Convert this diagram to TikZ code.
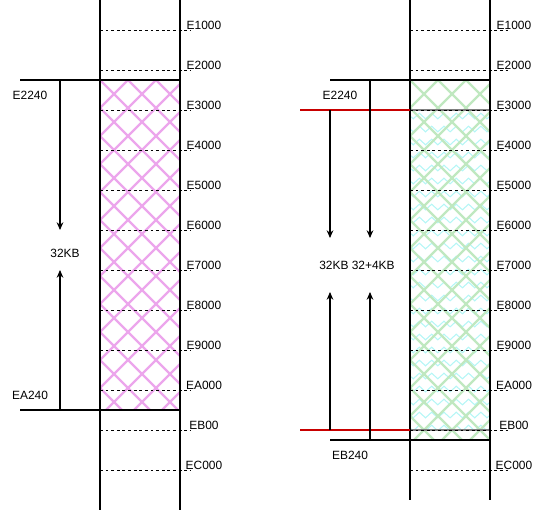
\documentclass[tikz,border=0pt]{standalone}
\usepackage{fontspec}
\setmainfont{Liberation Sans}
\usepackage{tikz}
\usetikzlibrary{arrows.meta,calc,decorations.pathmorphing}

\definecolor{hatchpink}{RGB}{236,166,236}
\definecolor{hatchgreen}{RGB}{192,232,192}
\definecolor{wavecyan}{RGB}{180,246,246}
\definecolor{borderred}{RGB}{200,0,0}

\tikzset{
  lbl/.style={font=\fontsize{6.8}{8}\selectfont, inner sep=0pt},
  rowline/.style={dashed, dash pattern=on 1.6pt off 1.6pt, line width=0.55pt},
  wall/.style={line width=0.6pt},
  hatch/.style={line width=1.3pt},
  memarrow/.style={-{Stealth[length=4.4pt,width=3.8pt]}, line width=0.6pt},
  wave/.style={wavecyan, line width=0.6pt, decorate,
    decoration={zigzag, segment length=7pt, amplitude=1.6pt}},
}

\begin{document}
\begin{tikzpicture}[x=0.02cm, y=-0.02cm]
    \useasboundingbox (0,0) rectangle (545,512);

    % 左侧区域的填充 (粉色网格)
    \begin{scope}
        \clip (100,80) rectangle (180,410);
        \foreach \s in {-420,-392,...,420} {
            \draw[hatchpink, hatch] (100,80+\s) -- ++(420,420);
        }
        \foreach \s in {0,28,...,840} {
            \draw[hatchpink, hatch] (100,80+\s) -- ++(420,-420);
        }
    \end{scope}
    \draw[gray, wall] (100,80) rectangle (180,410);

    % 右侧区域的填充 (绿色网格 + 青色波纹)
    \begin{scope}
        \clip (410,110) rectangle (490,430);
        \foreach \yy in {116,129,...,428} {
            \draw[wave] (404,\yy) -- (496,\yy);
        }
    \end{scope}
    \begin{scope}
        \clip (410,80) rectangle (490,440);
        \foreach \s in {-420,-392,...,420} {
            \draw[hatchgreen, hatch] (410,80+\s) -- ++(420,420);
        }
        \foreach \s in {0,28,...,840} {
            \draw[hatchgreen, hatch] (410,80+\s) -- ++(420,-420);
        }
    \end{scope}
    \draw[gray, wall] (410,80) rectangle (490,440);
    \draw[gray, wall] (410,110) -- (490,110);
    \draw[gray, wall] (410,430) -- (490,430);

    % 内存地址线及标注
    \foreach \lab [count=\i] in {E1000,E2000,E3000,E4000,E5000,E6000,E7000,E8000,E9000,EA000,EB00,EC000} {
        \draw[rowline] (100,30+40*\i-40) -- (191,30+40*\i-40);
        \node[lbl] (l\i) at (204,25+40*\i-40) {\lab};
        \draw[rowline] (410,30+40*\i-40) -- (510,30+40*\i-40);
        \node[lbl] (r\i) at (514,25+40*\i-40) {\lab};
    }

    % 左右两列竖线
    \draw[wall] (100,0) -- (100,510);
    \draw[wall] (180,0) -- (180,510);
    \draw[wall] (410,0) -- (410,500);
    \draw[wall] (490,0) -- (490,500);

    % 左侧 32KB 区间
    \draw[wall] (20,80) -- (180,80);
    \draw[wall] (20,410) -- (180,410);
    \node[lbl] (lstart) at (30,95) {E2240};
    \node[lbl] (lend) at (30,395) {EA240};
    \node[lbl] (lsize) at (65,253) {32KB};
    \coordinate (ltop) at (60,80);
    \coordinate (lbot) at (60,410);
    \draw[memarrow] (ltop) -- (60,230);
    \draw[memarrow] (lbot) -- (60,270);

    % 右侧 32KB 与 32+4KB 区间
    \draw[wall] (330,80) -- (490,80);
    \draw[wall] (330,440) -- (490,440);
    \draw[borderred, wall] (300,110) -- (410,110);
    \draw[borderred, wall] (300,430) -- (410,430);
    \node[lbl] (rstart) at (340,95) {E2240};
    \node[lbl] (rend) at (350,455) {EB240};
    \node[lbl] (rsize) at (357,265) {32KB 32+4KB};
    \coordinate (rtopa) at (330,110);
    \coordinate (rtopb) at (370,80);
    \coordinate (rbota) at (330,430);
    \coordinate (rbotb) at (370,440);
    \draw[memarrow] (rtopa) -- (330,238);
    \draw[memarrow] (rtopb) -- (370,238);
    \draw[memarrow] (rbota) -- (330,292);
    \draw[memarrow] (rbotb) -- (370,292);
\end{tikzpicture}
\end{document}
